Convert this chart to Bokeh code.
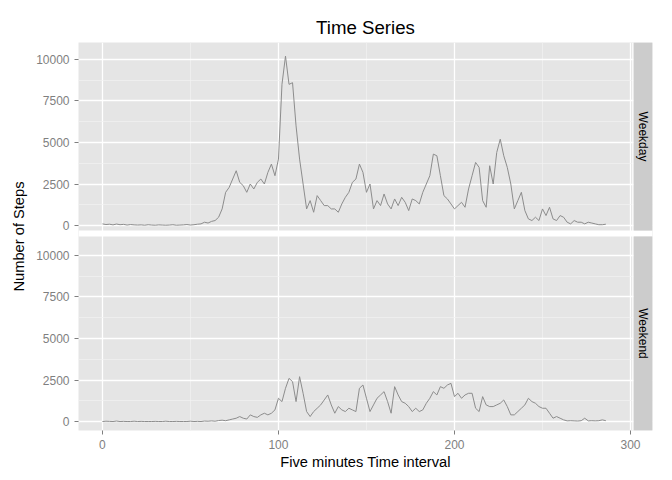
import math
from bokeh.plotting import figure
from bokeh.models import FixedTicker, ColumnDataSource
from bokeh.core.properties import value
from bokeh.embed import file_html
from bokeh.resources import INLINE

interval = list(range(0, 288, 2))

weekday_steps = [100, 60, 80, 40, 90, 50, 70, 30, 60, 40,
                 30, 40, 20, 50, 30, 20, 40, 30, 20, 30, 50, 20, 30, 40, 60, 30, 50, 80,
                 100, 200, 150, 250, 300,
                 500, 1000, 2000, 2300, 2800, 3300, 2600, 2400, 2000, 2500, 2200, 2600, 2800, 2500, 3200, 3700, 3000, 4000,
                 8500, 10200, 8500, 8600, 6000, 4000, 2500, 1000, 1500, 800, 1800, 1500, 1200, 1200, 1000,
                 1000, 800, 1300, 1700, 2000, 2600, 2800, 3700, 3200, 2000, 2500, 1000,
                 1500, 1200, 1900, 1300, 1000, 1600, 1200, 1700, 1400, 900,
                 1600, 1500, 1300, 2000, 2500, 3000, 4300, 4200, 3000, 1800,
                 1600, 1300, 1000, 1200, 1400, 1100, 2200, 3000, 3800, 3500,
                 1500, 1100, 3600, 2500, 4400, 5200, 4200, 3500, 2500, 1000,
                 1500, 2000, 900, 400, 300, 500, 300, 1000, 600, 1100,
                 400, 300, 600, 500, 200, 100, 300, 200, 200, 100,
                 200, 150, 100, 50, 50, 80]

weekend_steps = [0, 20, 10, 0, 30, 0, 10, 0, 0, 20, 0, 10, 0, 0, 0, 10, 0, 0, 20, 0, 0, 10, 0, 0, 0, 20, 0, 10,
                 0, 30, 20, 40, 20, 60, 80, 50, 100, 150,
                 200, 300, 200, 150, 400, 300, 250, 400, 500, 400, 500, 700,
                 1400, 1200, 2000, 2600, 2400, 1200, 2700, 1700, 600, 300, 600, 800, 1000, 1300, 1600, 1000,
                 500, 900, 700, 600, 800, 700, 600, 2000, 2200, 1400, 600, 1000, 1400, 1600, 1800,
                 1200, 500, 2100, 1600, 1200, 1100, 900, 600, 800, 600, 700, 1100, 1400, 1800, 1600,
                 2100, 2000, 2200, 2300, 1500, 1700, 1400, 1600, 1700, 1700, 800, 600, 1500, 1000, 900,
                 900, 1000, 1100, 1300, 900, 400, 400, 600, 800, 1000, 1400, 1200, 1100, 900, 800,
                 800, 500, 200, 300, 200, 100, 40, 50, 40, 30, 50, 200, 40, 50, 40, 50, 100, 50]

x_ticks = [0, 100, 200, 300]
y_ticks = [0, 2500, 5000, 7500, 10000]
panels = ["Weekday", "Weekend"]

# facets are stacked in one frame: the top panel is shifted up by OFFSET
OFFSET = 11800
GAP_LO, GAP_HI = 11140, 11500
X_LO, X_HI = -13.6, 312.5
STRIP_X0 = 301.8

p = figure(width=664, height=472, x_range=(X_LO, X_HI), y_range=(-540, 22820),
           output_backend="svg", toolbar_location=None,
           min_border_left=78, min_border_right=12, min_border_top=42, min_border_bottom=42,
           title="Time Series")
p.frame_width = 574
p.frame_height = 388
p.title.align = "center"
p.title.text_font = "Liberation Sans"
p.title.text_font_size = "14pt"
p.title.text_font_style = "normal"
p.title.text_color = "black"
p.outline_line_color = None
p.background_fill_color = "#E5E5E5"
p.border_fill_color = "white"

all_y = y_ticks + [t + OFFSET for t in y_ticks]
minor_y = [t + 1250 for t in y_ticks[:-1]] + [t + 1250 + OFFSET for t in y_ticks[:-1]]
p.yaxis.ticker = FixedTicker(ticks=all_y, minor_ticks=minor_y)
p.yaxis.major_label_overrides = {t: str(t) for t in y_ticks}
p.yaxis.major_label_overrides.update({t + OFFSET: str(t) for t in y_ticks})
p.xaxis.ticker = FixedTicker(ticks=x_ticks, minor_ticks=[50, 150, 250])

for ax in (p.xaxis, p.yaxis):
    ax.axis_line_color = None
    ax.major_tick_line_color = "#7F7F7F"
    ax.major_tick_out = 4
    ax.major_tick_in = 0
    ax.minor_tick_line_color = None
    ax.major_label_text_color = "#7F7F7F"
    ax.major_label_text_font = "Liberation Sans"
    ax.major_label_text_font_size = "9pt"
    ax.axis_label_text_font = "Liberation Sans"
    ax.axis_label_text_font_size = "11pt"
    ax.axis_label_text_font_style = "normal"
    ax.axis_label_text_color = "black"
p.xaxis.axis_label = "Five minutes Time interval"
p.yaxis.axis_label = "Number of Steps"
p.xaxis.axis_label_standoff = 2
p.yaxis.axis_label_standoff = 6

p.grid.grid_line_color = "white"
p.grid.grid_line_width = 1.3
p.grid.minor_grid_line_color = "#F2F2F2"
p.grid.minor_grid_line_width = 0.7

# white gap between panels and in front of strips
p.quad(left=X_LO, right=X_HI, bottom=GAP_LO, top=GAP_HI, fill_color="white", line_color=None)
p.quad(left=301, right=STRIP_X0, bottom=-540, top=22820, fill_color="white", line_color=None)

p.line(interval, [v + OFFSET for v in weekday_steps], line_color="#8C8C8C", line_width=1)
p.line(interval, weekend_steps, line_color="#8C8C8C", line_width=1)

strip_src = ColumnDataSource(dict(
    bottom=[GAP_HI, -540], top=[22820, GAP_LO], label=panels,
    ymid=[(GAP_HI + 22820) / 2, (GAP_LO - 540) / 2]))
p.quad(left=STRIP_X0, right=X_HI, bottom="bottom", top="top", source=strip_src,
       fill_color="#CCCCCC", line_color=None)
p.text(x=(STRIP_X0 + X_HI) / 2, y="ymid", text="label", source=strip_src, angle=-math.pi / 2,
       text_align="center", text_baseline="middle", text_font=value("Liberation Sans"),
       text_font_size="9pt", text_color="black")

open("out.html", "w").write(file_html(p, INLINE))
